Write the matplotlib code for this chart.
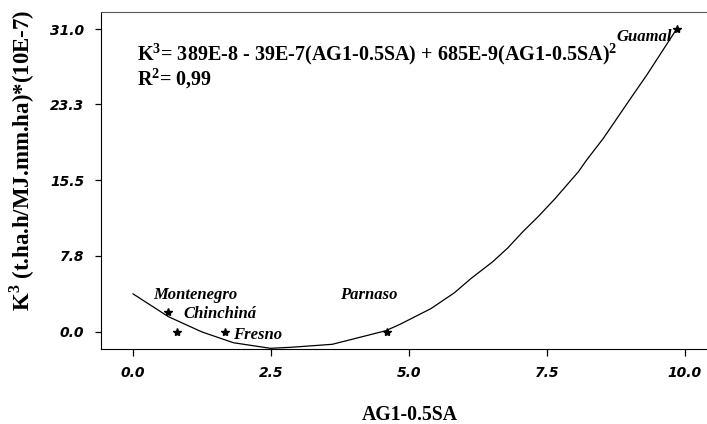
import matplotlib
matplotlib.use("Agg")
from matplotlib import pyplot as plt

plt.rcParams["mathtext.fontset"] = "custom"
plt.rcParams["mathtext.rm"] = "Liberation Serif:bold"
plt.rcParams["mathtext.bf"] = "Liberation Serif:bold"

# sites (observed points)
sites = ["Montenegro", "Chinchiná", "Fresno", "Parnaso", "Guamal"]
site_x = [0.64, 0.80, 1.67, 4.60, 9.85]
site_y = [2.05, 0.00, 0.00, 0.00, 31.0]

# fitted curve, vertices
curve_x = [0.0, 0.64, 1.25, 1.82, 2.49, 2.85, 3.61, 4.58, 4.85, 5.40, 5.82,
           6.13, 6.52, 6.79, 7.07, 7.34, 7.64, 8.07, 8.22, 8.52, 9.04, 9.31, 9.85]
curve_y = [3.9, 1.57, 0.0, -1.1, -1.67, -1.57, -1.26, 0.13, 0.82, 2.4, 4.0,
           5.5, 7.2, 8.6, 10.3, 11.8, 13.6, 16.4, 17.6, 19.8, 24.1, 26.3, 31.0]

x_ticks = [0.0, 2.5, 5.0, 7.5, 10.0]
y_ticks = [0.0, 7.8, 15.5, 23.3, 31.0]

fig = plt.figure(figsize=(7.07, 4.24), dpi=100)
ax = fig.add_axes([0.1429, 0.1769, 0.8571, 0.7948])

ax.plot(curve_x, curve_y, color="black", lw=0.9)
ax.plot(site_x, site_y, linestyle="none", marker="*", color="black", markersize=6)

ax.set_xlim(-0.58, 10.40)
ax.set_ylim(-1.74, 32.74)
ax.set_xticks(x_ticks)
ax.set_yticks(y_ticks)
ax.set_xticklabels([f"{v:.1f}" for v in x_ticks])
ax.set_yticklabels([f"{v:.1f}" for v in y_ticks])
for lab in ax.get_xticklabels() + ax.get_yticklabels():
    lab.set_fontweight("bold")
    lab.set_fontstyle("italic")
    lab.set_fontsize(10)
ax.tick_params(axis="x", direction="out", length=5, pad=7, width=0.9)
ax.tick_params(axis="y", direction="out", length=4, pad=8, width=0.9)

ax.spines["right"].set_visible(False)
ax.spines["top"].set_color("#555555")

serif = "Liberation Serif"
lab_kw = dict(family=serif, fontweight="bold", fontstyle="italic", fontsize=12,
              va="center")
ax.text(0.36, 3.79, sites[0], ha="left", **lab_kw)
ax.text(0.91, 1.84, sites[1], ha="left", **lab_kw)
ax.text(1.82, -0.3, sites[2], ha="left", **lab_kw)
ax.text(3.75, 3.79, sites[3], ha="left", **lab_kw)
ax.text(9.76, 30.2, sites[4], ha="right", **lab_kw)

ax.text(0.07, 28.4, r"K$^{3}$= 389E-8 - 39E-7(AG1-0.5SA) + 685E-9(AG1-0.5SA)$^{2}$",
        family=serif, fontweight="bold", fontsize=14.5, ha="left", va="center")
ax.text(0.07, 25.9, r"R$^{2}$= 0,99", family=serif, fontweight="bold", fontsize=14.5,
        ha="left", va="center")

fig.text(410 / 707, 1 - 415 / 424, "AG1-0.5SA", family=serif, fontweight="bold",
         fontsize=14.2, ha="center", va="center")
fig.text(22 / 707, 1 - 160 / 424, r"K$^{3}$ (t.ha.h/MJ.mm.ha)*(10E-7)", family=serif,
         fontweight="bold", fontsize=16.5, rotation=90, ha="center", va="center")

fig.savefig("out.png", dpi=100)
